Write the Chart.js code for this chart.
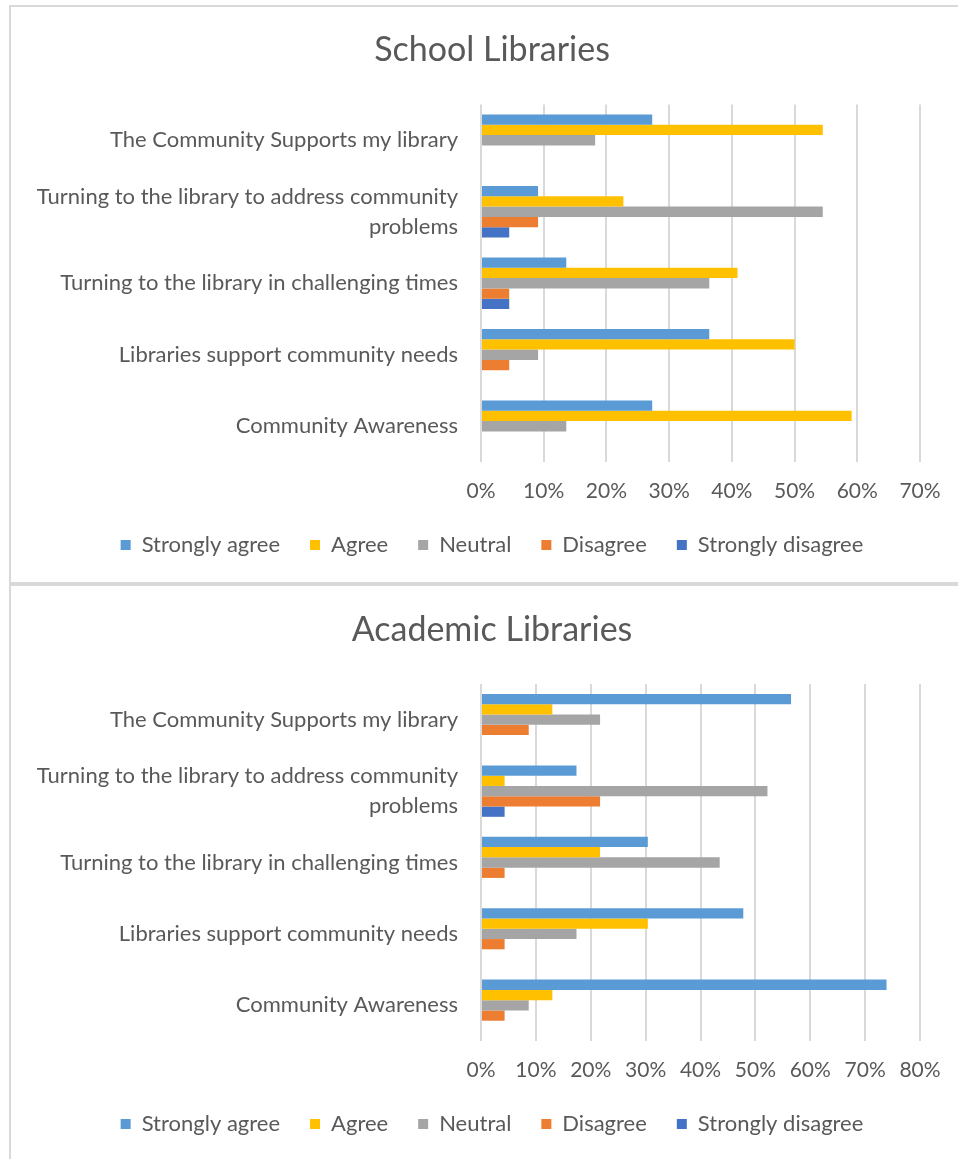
<!DOCTYPE html>
<html>
<head>
<meta charset="utf-8">
<title>Library survey</title>
<script src="https://cdn.jsdelivr.net/npm/chart.js@4/dist/chart.umd.min.js"></script>
<style>
  html, body { margin: 0; padding: 0; background: #fff; overflow: hidden; }
  body { position: relative; width: 958px; height: 1159px; }
  .rule { position: absolute; background: #d9d9d9; }
  .panel { position: absolute; left: 11px; }
</style>
</head>
<body>
<div class="rule" style="left:9px; top:5px; width:949px; height:2px;"></div>
<div class="rule" style="left:9px; top:5px; width:2px; height:1154px;"></div>
<div class="rule" style="left:9px; top:582px; width:949px; height:4px;"></div>

<div class="panel" style="top:7px;"><canvas id="schoolChart" width="967" height="575"></canvas></div>
<div class="panel" style="top:586px;"><canvas id="academicChart" width="967" height="573"></canvas></div>

<script>
// survey statements, listed top to bottom
var statements = [
    'The Community Supports my library',
    ['Turning to the library to address community', 'problems'],
    'Turning to the library in challenging times',
    'Libraries support community needs',
    'Community Awareness'
];

var responses = ['Strongly agree', 'Agree', 'Neutral', 'Disagree', 'Strongly disagree'];
var responseColors = ['#5b9bd5', '#ffc000', '#a5a5a5', '#ed7d31', '#4472c4'];

// School libraries (% of respondents)
var schoolStronglyAgree = [27.3, 9.1, 13.6, 36.4, 27.3];
var schoolAgree = [54.5, 22.7, 40.9, 50.0, 59.1];
var schoolNeutral = [18.2, 54.5, 36.4, 9.1, 13.6];
var schoolDisagree = [0, 9.1, 4.5, 4.5, 0];
var schoolStronglyDisagree = [0, 4.5, 4.5, 0, 0];
var schoolTicks = [0, 10, 20, 30, 40, 50, 60, 70];

// Academic libraries (% of respondents)
var academicStronglyAgree = [56.5, 17.4, 30.4, 47.8, 73.9];
var academicAgree = [13.0, 4.3, 21.7, 30.4, 13.0];
var academicNeutral = [21.7, 52.2, 43.5, 17.4, 8.7];
var academicDisagree = [8.7, 21.7, 4.3, 4.3, 4.3];
var academicStronglyDisagree = [0, 4.3, 0, 0, 0];
var academicTicks = [0, 10, 20, 30, 40, 50, 60, 70, 80];

Chart.defaults.font.family = 'Lato, "Noto Sans", sans-serif';
Chart.defaults.color = '#595959';

function makeChart(canvasId, title, series, ticks, pad) {
    var datasets = series.map(function (values, i) {
        return {
            label: responses[i],
            data: values,
            backgroundColor: responseColors[i],
            borderWidth: 0,
            barPercentage: 1,
            categoryPercentage: 0.72
        };
    });

    return new Chart(document.getElementById(canvasId).getContext('2d'), {
        type: 'bar',
        data: { labels: statements, datasets: datasets },
        options: {
            indexAxis: 'y',
            responsive: false,
            animation: false,
            layout: { padding: { left: 5, right: 10, top: 0, bottom: pad.bottom } },
            scales: {
                x: {
                    min: ticks[0],
                    max: ticks[ticks.length - 1],
                    afterBuildTicks: function (axis) {
                        axis.ticks = ticks.map(function (v) { return { value: v }; });
                    },
                    afterFit: function (axis) { axis.height = 42; },
                    border: { display: false },
                    grid: { color: '#d9d9d9', lineWidth: 2, drawTicks: false },
                    ticks: {
                        padding: 17,
                        font: { size: 21 },
                        callback: function (v) { return v + '%'; }
                    }
                },
                y: {
                    afterFit: function (axis) { axis.width = 465; },
                    border: { display: false },
                    grid: { display: false, drawTicks: false },
                    ticks: { padding: 23, font: { size: 22, lineHeight: 1.36 } }
                },
                // empty strip on the right so title and legend sit over the whole panel
                yRight: {
                    type: 'category',
                    position: 'right',
                    afterFit: function (axis) { axis.width = 48; },
                    border: { display: false },
                    grid: { display: false, drawTicks: false },
                    ticks: { display: false }
                }
            },
            plugins: {
                title: {
                    display: true,
                    text: title,
                    color: '#595959',
                    font: { size: 34, weight: 'normal' },
                    padding: { top: pad.titleTop, bottom: pad.titleBottom }
                },
                legend: {
                    position: 'bottom',
                    labels: { boxWidth: 10, boxHeight: 10, padding: 30, font: { size: 22 } }
                },
                tooltip: { enabled: false }
            }
        }
    });
}

makeChart('schoolChart', 'School Libraries',
    [schoolStronglyAgree, schoolAgree, schoolNeutral, schoolDisagree, schoolStronglyDisagree],
    schoolTicks, { titleTop: 22.6, titleBottom: 34.1, bottom: 16 });

makeChart('academicChart', 'Academic Libraries',
    [academicStronglyAgree, academicAgree, academicNeutral, academicDisagree, academicStronglyDisagree],
    academicTicks, { titleTop: 23.6, titleBottom: 33.6, bottom: 14 });
</script>
</body>
</html>
